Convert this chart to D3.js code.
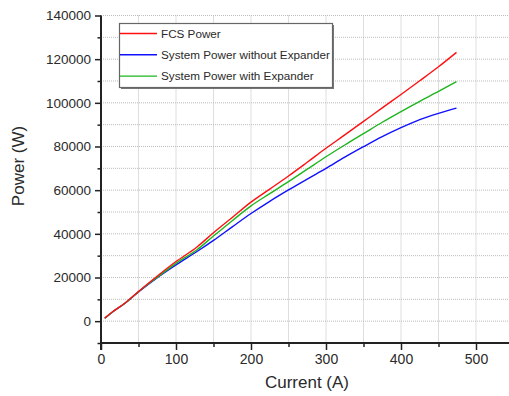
<!DOCTYPE html>
<html><head><meta charset="utf-8">
<script src="https://cdn.jsdelivr.net/npm/d3@7"></script>
<style>body{margin:0;background:#fff;} svg{display:block;} text{font-family:Arial,"Liberation Sans",sans-serif;fill:#2a2a2a;}</style>
</head><body><svg id="c" width="509" height="396"></svg>
<script>
const current = [5, 15, 32, 50, 76, 100, 128, 150, 175, 200, 225, 250, 275, 300, 325, 350, 375, 400, 425, 450, 474];
const fcsPower = [1400, 4200, 8300, 13600, 20900, 27300, 34000, 40500, 47500, 54500, 60500, 66500, 72800, 79200, 85300, 91500, 97700, 103800, 110100, 116500, 123100];
const sysNoExp = [1300, 4100, 8200, 13400, 20200, 25800, 31900, 37000, 43200, 49300, 54900, 60100, 65100, 70000, 75100, 79900, 84500, 88600, 92300, 95200, 97600];
const sysExp   = [1300, 4100, 8200, 13500, 20400, 26500, 32700, 39000, 46000, 52800, 58400, 63900, 69600, 75300, 80700, 85900, 91100, 96000, 100700, 105200, 109700];
const seriesNames = ["FCS Power", "System Power without Expander", "System Power with Expander"];
const seriesColors = ["#ff1010", "#1010ff", "#1db51d"];
const xTicks = [0, 100, 200, 300, 400, 500];
const yTicks = [0, 20000, 40000, 60000, 80000, 100000, 120000, 140000];

const svg = d3.select("#c");
const x = d3.scaleLinear().domain([0, 544]).range([101, 509]);
const y = d3.scaleLinear().domain([-10000, 140000]).range([343, 15.5]);

// grid
const g = svg.append("g");
g.selectAll(".gy").data(d3.range(-10000, 140001, 10000)).join("line")
  .attr("x1", 101).attr("x2", 509).attr("y1", d => y(d)).attr("y2", d => y(d))
  .attr("stroke", "#bdbdbd").attr("stroke-width", 1).attr("stroke-dasharray", "1,1");
g.selectAll(".gx").data(d3.range(50, 544, 50)).join("line")
  .attr("x1", d => x(d)).attr("x2", d => x(d)).attr("y1", y(140000)).attr("y2", y(-10000))
  .attr("stroke", "#bdbdbd").attr("stroke-width", 1).attr("stroke-dasharray", "1,1");

// axes
const yAxis = d3.axisLeft(y).tickValues(yTicks).tickSize(6).tickPadding(4).tickFormat(d3.format("d"));
const yA = svg.append("g").attr("transform", "translate(101,0)").call(yAxis);
const yMinor = d3.axisLeft(y).tickValues(d3.range(-10000, 140001, 20000)).tickSize(3.5).tickFormat("");
svg.append("g").attr("transform", "translate(101,0)").call(yMinor).select(".domain").remove();
const xAxis = d3.axisBottom(x).tickValues(xTicks).tickSize(7).tickPadding(4);
const xA = svg.append("g").attr("transform", "translate(0,343)").call(xAxis);
const xMinor = d3.axisBottom(x).tickValues(d3.range(50, 544, 100)).tickSize(4).tickFormat("");
svg.append("g").attr("transform", "translate(0,343)").call(xMinor).select(".domain").remove();
svg.selectAll(".tick line").attr("stroke", "#222").attr("stroke-width", 1.5);
svg.selectAll(".domain").attr("stroke", "#222").attr("stroke-width", 2);
yA.selectAll("text").attr("font-size", 13.5).style("font-family", "Arial, 'Liberation Sans', sans-serif");
xA.selectAll("text").attr("font-size", 14).style("font-family", "Arial, 'Liberation Sans', sans-serif");
// fix the axis line ends
yA.select(".domain").attr("d", `M0,${y(140000)}V350`);
xA.select(".domain").attr("d", `M100,0H509`);

// lines
const allSeries = [fcsPower, sysNoExp, sysExp];
const line = d3.line().x((d, i) => x(current[i])).y(d => y(d)).curve(d3.curveMonotoneX);
[1, 2, 0].forEach(k => {
  svg.append("path").datum(allSeries[k]).attr("d", line)
    .attr("fill", "none").attr("stroke", seriesColors[k]).attr("stroke-width", 1.4);
});

// axis titles
svg.append("text").attr("x", 307).attr("y", 388).attr("text-anchor", "middle")
  .attr("font-size", 17).text("Current (A)");
svg.append("text").attr("transform", "translate(24,166) rotate(-90)").attr("text-anchor", "middle")
  .attr("font-size", 17).text("Power (W)");

// legend
const lg = svg.append("g");
lg.append("rect").attr("x", 121).attr("y", 25).attr("width", 213).attr("height", 64).attr("fill", "#777");
lg.append("rect").attr("x", 119.5).attr("y", 23.5).attr("width", 213).attr("height", 64)
  .attr("fill", "#fff").attr("stroke", "#666").attr("stroke-width", 1.2);
seriesNames.forEach((n, i) => {
  const yy = 33.5 + i * 21.3;
  lg.append("line").attr("x1", 120).attr("x2", 157).attr("y1", yy).attr("y2", yy)
    .attr("stroke", seriesColors[i]).attr("stroke-width", 1.4);
  lg.append("text").attr("x", 161).attr("y", yy + 4.2).attr("font-size", 11.7).text(n);
});
</script></body></html>
